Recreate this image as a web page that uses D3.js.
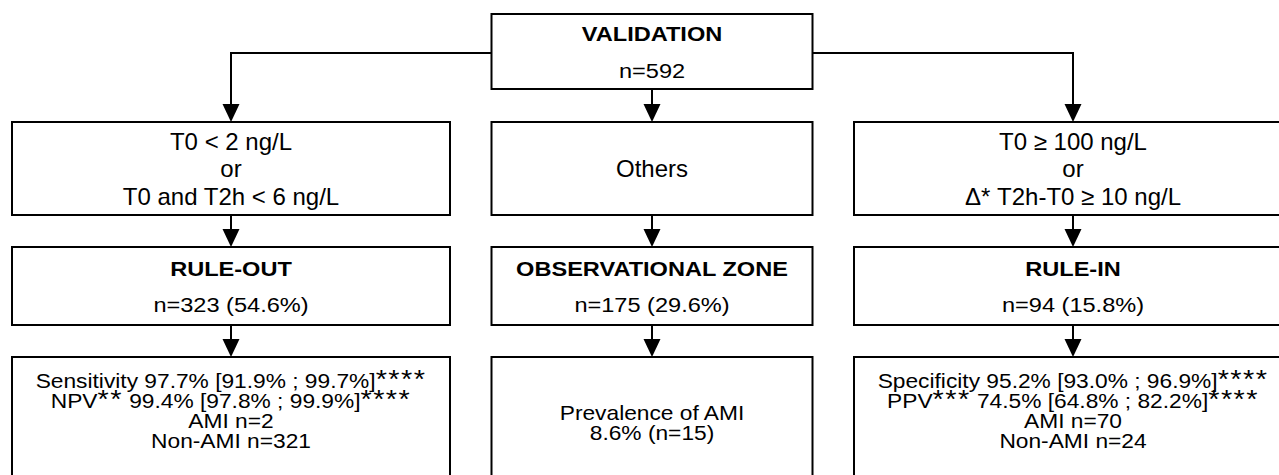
<!DOCTYPE html>
<html>
<head>
<meta charset="utf-8">
<script src="https://cdn.jsdelivr.net/npm/d3@7"></script>
<style>
  body { margin: 0; background: #fff; }
  svg { display: block; }
  text { font-family: "Liberation Sans", Arial, sans-serif; fill: #000; }
</style>
</head>
<body>
<div id="chart"></div>
<script>
// flowchart content
const columns = ["rule-out", "observational", "rule-in"];
const startLines = ["VALIDATION", "n=592"];
const criteriaLines = [
    ["T0 < 2 ng/L", "or", "T0 and T2h < 6 ng/L"],
    ["Others"],
    ["T0 ≥ 100 ng/L", "or", "Δ* T2h-T0 ≥ 10 ng/L"]
];
const zoneNames = ["RULE-OUT", "OBSERVATIONAL ZONE", "RULE-IN"];
const zoneCounts = ["n=323 (54.6%)", "n=175 (29.6%)", "n=94 (15.8%)"];
const outcomeLines = [
    ["Sensitivity 97.7% [91.9% ; 99.7%]****", "NPV** 99.4% [97.8% ; 99.9%]****", "AMI n=2", "Non-AMI n=321"],
    ["Prevalence of AMI", "8.6% (n=15)"],
    ["Specificity 95.2% [93.0% ; 96.9%]****", "PPV*** 74.5% [64.8% ; 82.2%]****", "AMI n=70", "Non-AMI n=24"]
];

const width = 1279, height = 475;

var svg = d3.select("#chart")
    .append("svg")
    .attr("width", width)
    .attr("height", height);

// column centres
var x = d3.scalePoint()
    .domain(columns)
    .range([231, 1073]);

function boxWidth(c) { return c == "observational" ? 321 : 438; }

// rows: top / bottom of each box level
const rows = {
    start:    { top: 14,  bottom: 89 },
    criteria: { top: 122, bottom: 215 },
    zone:     { top: 247, bottom: 325 },
    outcome:  { top: 357, bottom: 492 }
};

function drawBox(cx, w, row) {
    svg.append("rect")
        .attr("x", cx - w / 2)
        .attr("y", row.top)
        .attr("width", w)
        .attr("height", row.bottom - row.top)
        .attr("fill", "white")
        .attr("stroke", "black")
        .attr("stroke-width", 2);
}

function drawArrow(cx, y0, y1) {
    svg.append("line")
        .attr("x1", cx).attr("x2", cx)
        .attr("y1", y0).attr("y2", y1 - 16)
        .attr("stroke", "black")
        .attr("stroke-width", 2);
    svg.append("path")
        .attr("d", `M${cx - 8.5},${y1 - 18} L${cx + 8.5},${y1 - 18} L${cx},${y1} Z`)
        .attr("fill", "black");
}

// text line; asterisk runs are drawn bigger, like in the original
function drawLine(cx, y, str, size, sx, bold, bigStars) {
    var t = svg.append("text")
        .attr("transform", `translate(${cx},${y}) scale(${sx},1)`)
        .attr("text-anchor", "middle")
        .style("font-size", size + "px")
        .style("font-weight", bold ? "bold" : "normal");
    var parts = bigStars ? str.split(/(\*+)/) : [str];
    parts.forEach(p => {
        if (p === "") return;
        var ts = t.append("tspan").text(p);
        if (bigStars && /^\*+$/.test(p)) {
            ts.style("font-size", "26px").style("letter-spacing", "1.3px");
        }
    });
}

// top box
var midX = x("observational");
drawBox(midX, 321, rows.start);
drawLine(midX, rows.start.top + 26.5, startLines[0], 20.5, 1.15, true);
drawLine(midX, rows.start.top + 64, startLines[1], 20.5, 1.15, false);

// connectors from top box
var yConn = 53;
svg.append("polyline")
    .attr("points", `${midX - 160.5},${yConn} ${x("rule-out")},${yConn} ${x("rule-out")},${rows.criteria.top - 16}`)
    .attr("fill", "none").attr("stroke", "black").attr("stroke-width", 2);
svg.append("polyline")
    .attr("points", `${midX + 160.5},${yConn} ${x("rule-in")},${yConn} ${x("rule-in")},${rows.criteria.top - 16}`)
    .attr("fill", "none").attr("stroke", "black").attr("stroke-width", 2);
drawArrow(x("rule-out"), yConn, rows.criteria.top);
drawArrow(x("rule-in"), yConn, rows.criteria.top);
drawArrow(midX, rows.start.bottom, rows.criteria.top);

columns.forEach((c, i) => {
    var cx = x(c), w = boxWidth(c);

    // criteria
    drawBox(cx, w, rows.criteria);
    var cl = criteriaLines[i];
    var mid = (rows.criteria.top + rows.criteria.bottom) / 2;
    cl.forEach((s, j) => {
        var yy = mid + 8.5 + (j - (cl.length - 1) / 2) * 27.5;
        drawLine(cx, yy, s, 24, 1.0, false, false);
    });
    drawArrow(cx, rows.criteria.bottom, rows.zone.top);

    // zone
    drawBox(cx, w, rows.zone);
    drawLine(cx, rows.zone.top + 29, zoneNames[i], 20.5, 1.15, true);
    drawLine(cx, rows.zone.top + 65, zoneCounts[i], 20.5, 1.15, false);
    drawArrow(cx, rows.zone.bottom, rows.outcome.top);

    // outcome
    drawBox(cx, w, rows.outcome);
    var ol = outcomeLines[i];
    var start = ol.length == 4 ? rows.outcome.top + 31 : rows.outcome.top + 63;
    ol.forEach((s, j) => {
        drawLine(cx, start + j * 20, s, 20.5, 1.11, false, true);
    });
});
</script>
</body>
</html>
